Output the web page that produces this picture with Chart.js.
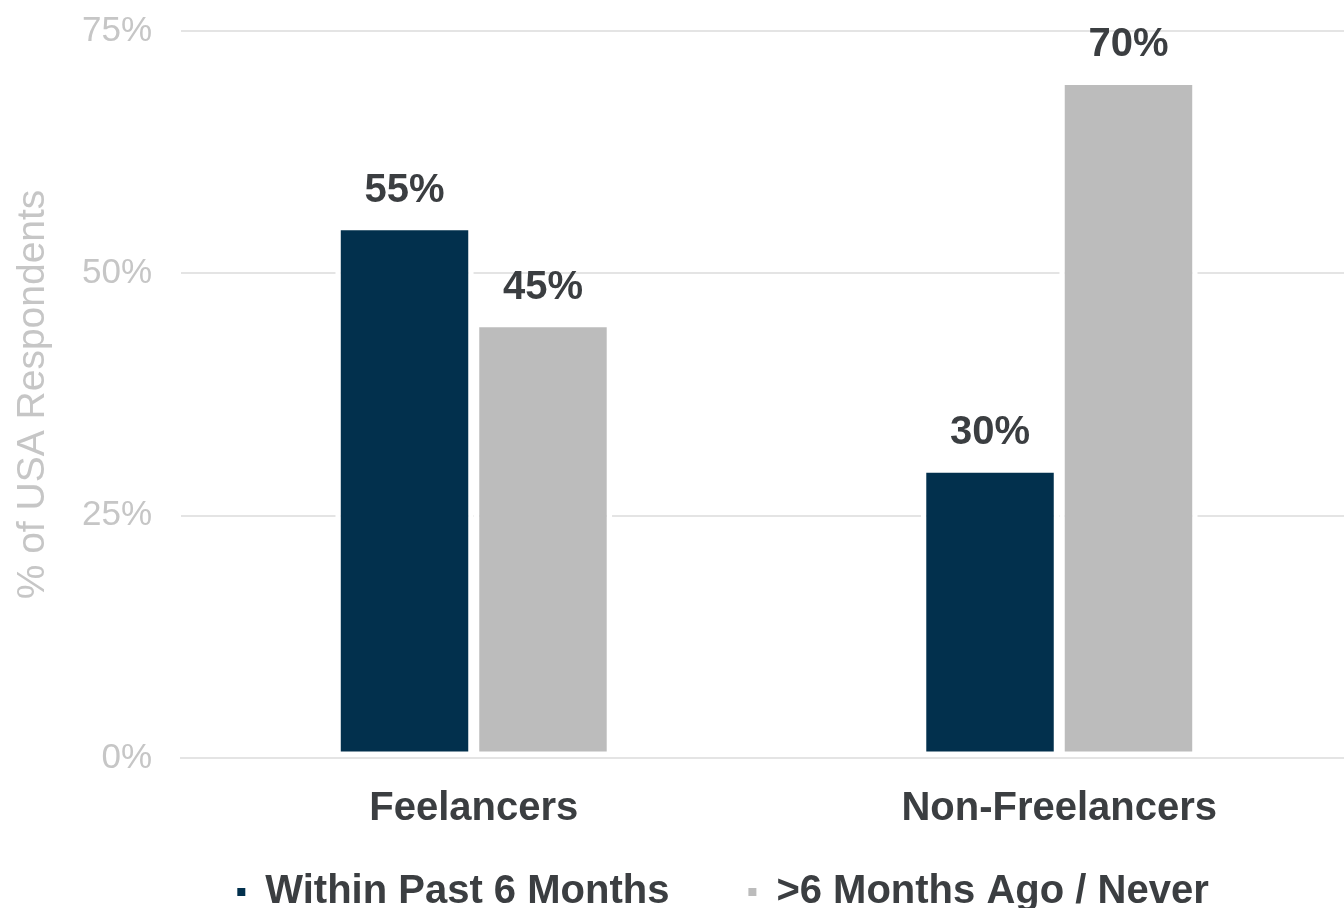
<!DOCTYPE html>
<html><head><meta charset="utf-8">
<script src="https://cdn.jsdelivr.net/npm/chart.js@4/dist/chart.umd.min.js"></script>
<style>
html,body{margin:0;padding:0;background:#fff;overflow:hidden;width:1344px;height:908px}
#wrap{position:absolute;left:0;top:0;width:1352px;height:989px}
</style></head><body>
<div id="wrap"><canvas id="c"></canvas></div>
<script>
const categories = ['Feelancers', 'Non-Freelancers'];
const seriesNames = ['Within Past 6 Months', '>6 Months Ago / Never'];
const withinPast6Months = [55, 30];
const moreThan6MonthsOrNever = [45, 70];
const yTickValues = [0, 25, 50, 75];
const yTitle = '% of USA Respondents';

const FONT = "'Liberation Sans', Arial, Helvetica, sans-serif";
const DARK = '#02304d';
const GRAY = '#bcbcbc';
const TEXT = '#3b3e41';
const LIGHT = '#c6c6c6';
const GRID = '#e4e4e4';
const LEGEND_DX = 47, LEGEND_DY = -67;

const valueLabels = {
  id: 'valueLabels',
  afterDatasetsDraw(chart) {
    const ctx = chart.ctx;
    ctx.save();
    ctx.font = 'bold 40px ' + FONT;
    ctx.fillStyle = TEXT;
    ctx.textAlign = 'center';
    ctx.textBaseline = 'middle';
    chart.data.datasets.forEach((ds, i) => {
      chart.getDatasetMeta(i).data.forEach((bar, j) => {
        ctx.fillText(ds.data[j] + '%', bar.x, bar.y - 34);
      });
    });
    ctx.restore();
  }
};
const legendShift = {
  id: 'legendShift',
  afterLayout(chart) {
    const l = chart.legend;
    l.left += LEGEND_DX; l.right += LEGEND_DX;
    l.top += LEGEND_DY; l.bottom += LEGEND_DY;
  }
};

new Chart(document.getElementById('c'), {
  type: 'bar',
  data: {
    labels: categories,
    datasets: [
      { label: seriesNames[0], data: withinPast6Months, backgroundColor: DARK },
      { label: seriesNames[1], data: moreThan6MonthsOrNever, backgroundColor: GRAY }
    ]
  },
  options: {
    responsive: true,
    maintainAspectRatio: false,
    animation: false,
    events: [],
    datasets: { bar: { barPercentage: 1, categoryPercentage: 0.473, borderWidth: 5.5, borderColor: '#ffffff', borderSkipped: false } },
    layout: { padding: { top: 31, left: 0, right: 0, bottom: 0 } },
    scales: {
      x: {
        z: 1,
        grid: { display: false, drawTicks: false },
        border: { display: true, color: GRID, width: 2 },
        ticks: { color: TEXT, font: { family: FONT, size: 40, weight: 'bold' }, padding: 27 }
      },
      y: {
        min: 0, max: 75,
        afterFit(scale) { scale.width = 181; scale.paddingTop = 0; scale.paddingBottom = 0; },
        afterBuildTicks(scale) { scale.ticks = yTickValues.map(v => ({ value: v })); },
        grid: { color: GRID, lineWidth: 2, drawTicks: false },
        border: { display: false },
        ticks: { color: LIGHT, font: { family: FONT, size: 35 }, padding: 29, callback: v => v + '%' },
        title: { display: true, text: yTitle, color: LIGHT, font: { family: FONT, size: 39 }, padding: { top: 10, bottom: 0 } }
      }
    },
    plugins: {
      tooltip: { enabled: false },
      legend: {
        position: 'bottom',
        labels: {
          color: TEXT,
          font: { family: FONT, size: 40, weight: 'bold' },
          boxWidth: 8, boxHeight: 8, padding: 79,
          generateLabels(chart) {
            return chart.data.datasets.map((ds, i) => ({
              text: ds.label, fillStyle: ds.backgroundColor, strokeStyle: ds.backgroundColor,
              lineWidth: 0, hidden: false, datasetIndex: i, fontColor: TEXT
            }));
          }
        }
      }
    }
  },
  plugins: [valueLabels, legendShift]
});
</script>
</body></html>
